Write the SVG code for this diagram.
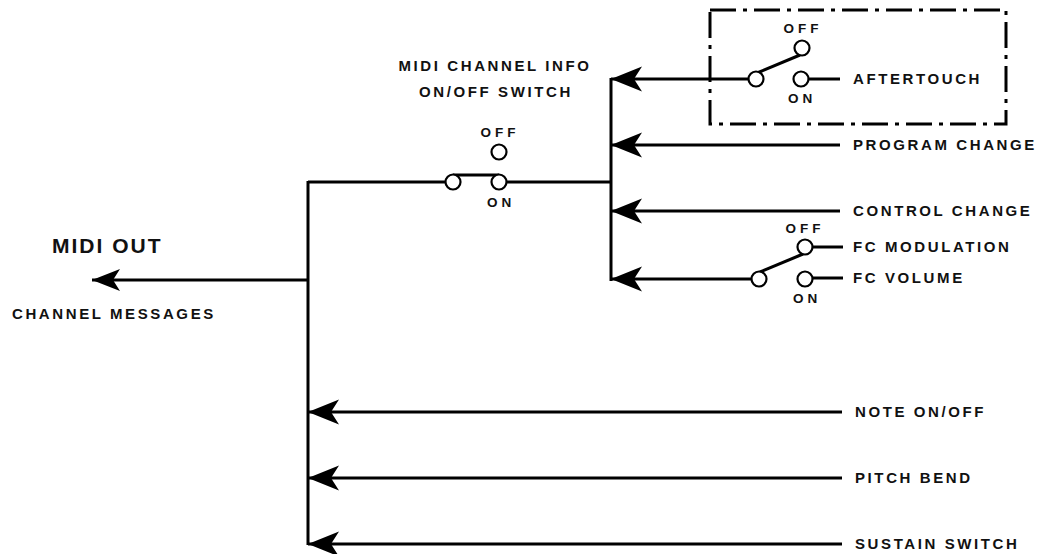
<svg xmlns="http://www.w3.org/2000/svg" width="1048" height="554" viewBox="0 0 1048 554">
<style>
  .ln { stroke:#000; stroke-width:3; fill:none; }
  .sw { stroke:#000; stroke-width:2.2; fill:#fff; }
  .lbl { font-family:"Liberation Sans", Arial, sans-serif; font-weight:bold; font-size:15px; letter-spacing:2.6px; fill:#111; }
  .sm { font-family:"Liberation Sans", Arial, sans-serif; font-weight:bold; font-size:13.5px; letter-spacing:4px; fill:#111; text-anchor:middle; }
  .big { font-family:"Liberation Sans", Arial, sans-serif; font-weight:bold; font-size:21px; letter-spacing:2px; fill:#111; }
  .box { stroke:#000; stroke-width:3; fill:none; stroke-dasharray:26 7 4 7; }
</style>
<defs>
  <marker id="ah" markerUnits="userSpaceOnUse" viewBox="-1 -14 33 28" markerWidth="33" markerHeight="28" refX="31" refY="0" orient="auto">
    <path d="M0,-12.5 L31,0 L0,12.5 L8,0 Z" fill="#000"/>
  </marker>
  <marker id="ahs" markerUnits="userSpaceOnUse" viewBox="-1 -12 30 24" markerWidth="30" markerHeight="24" refX="28" refY="0" orient="auto">
    <path d="M0,-11 L28,0 L0,11 L7,0 Z" fill="#000"/>
  </marker>
</defs>
<rect width="1048" height="554" fill="#fff"/>

<g id="connectors">
  <line class="ln" x1="308" y1="181" x2="308" y2="545"/>
  <line class="ln" x1="308" y1="280" x2="92" y2="280" marker-end="url(#ahs)"/>
  <line class="ln" x1="308" y1="182" x2="445" y2="182"/>
  <line class="ln" x1="506" y1="182" x2="611" y2="182"/>
  <line class="ln" x1="611" y1="78" x2="611" y2="281"/>
  <line class="ln" x1="749" y1="79" x2="611" y2="79" marker-end="url(#ah)"/>
  <line class="ln" x1="840" y1="145" x2="611" y2="145" marker-end="url(#ah)"/>
  <line class="ln" x1="840" y1="211" x2="611" y2="211" marker-end="url(#ah)"/>
  <line class="ln" x1="752" y1="279" x2="611" y2="279" marker-end="url(#ah)"/>
  <line class="ln" x1="842" y1="412" x2="308" y2="412" marker-end="url(#ah)"/>
  <line class="ln" x1="842" y1="478" x2="308" y2="478" marker-end="url(#ah)"/>
  <line class="ln" x1="842" y1="544" x2="308" y2="544" marker-end="url(#ah)"/>
  <line class="ln" x1="808" y1="79" x2="840" y2="79"/>
  <line class="ln" x1="812" y1="247" x2="843" y2="247"/>
  <line class="ln" x1="812" y1="278" x2="843" y2="278"/>
</g>

<g id="midi-out">
  <text class="big" x="52" y="253">MIDI OUT</text>
  <text class="lbl" x="12" y="319">CHANNEL MESSAGES</text>
</g>

<g id="main-switch">
  <text class="lbl" x="495" y="71" text-anchor="middle">MIDI CHANNEL INFO</text>
  <text class="lbl" x="496" y="97" text-anchor="middle">ON/OFF SWITCH</text>
  <text class="sm" x="500" y="137">OFF</text>
  <text class="sm" x="501" y="207">ON</text>
  <line class="ln" x1="453" y1="175" x2="499" y2="175"/>
  <circle class="sw" cx="453" cy="182" r="7.5"/>
  <circle class="sw" cx="499" cy="182" r="7.5"/>
  <circle class="sw" cx="499" cy="152" r="7.5"/>
</g>

<g id="aftertouch">
  <path class="box" d="M710,10 H1006 V124 H710 Z"/>
  <text class="sm" x="803" y="33">OFF</text>
  <text class="sm" x="802" y="103">ON</text>
  <line class="ln" x1="757" y1="73" x2="800" y2="55"/>
  <circle class="sw" cx="756" cy="79" r="7.5"/>
  <circle class="sw" cx="801" cy="79" r="7.5"/>
  <circle class="sw" cx="802" cy="48" r="7.5"/>
  <text class="lbl" x="853" y="84">AFTERTOUCH</text>
</g>

<g id="program-change">
  <text class="lbl" x="853" y="150">PROGRAM CHANGE</text>
</g>

<g id="control-change">
  <text class="lbl" x="853" y="216">CONTROL CHANGE</text>
</g>

<g id="fc-switch">
  <text class="sm" x="805" y="233">OFF</text>
  <text class="sm" x="807" y="303">ON</text>
  <line class="ln" x1="760" y1="272" x2="803" y2="254"/>
  <circle class="sw" cx="759" cy="279" r="7.5"/>
  <circle class="sw" cx="805" cy="279" r="7.5"/>
  <circle class="sw" cx="805" cy="247" r="7.5"/>
  <text class="lbl" x="853" y="252">FC MODULATION</text>
  <text class="lbl" x="853" y="283">FC VOLUME</text>
</g>

<g id="note-onoff"><text class="lbl" x="855" y="417">NOTE ON/OFF</text></g>
<g id="pitch-bend"><text class="lbl" x="855" y="483">PITCH BEND</text></g>
<g id="sustain-switch"><text class="lbl" x="855" y="549">SUSTAIN SWITCH</text></g>
</svg>
